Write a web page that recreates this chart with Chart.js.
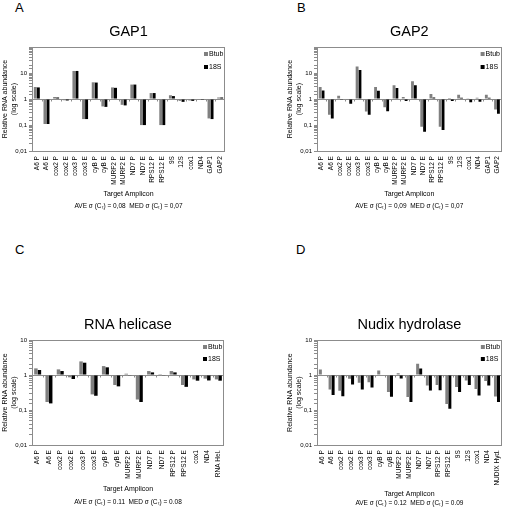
<!DOCTYPE html>
<html>
<head>
<meta charset="utf-8">
<script src="https://cdn.jsdelivr.net/npm/chart.js@4.4.0/dist/chart.umd.min.js"></script>
<style>
  html, body { margin: 0; padding: 0; background: #fff; }
  body { width: 510px; height: 508px; position: relative; overflow: hidden;
         font-family: "Liberation Sans", Arial, sans-serif; }
  canvas { position: absolute; }
  .tag { position: absolute; font-size: 13px; line-height: 1; color: #000; }
</style>
</head>
<body>
<div class="tag" style="left:15px;top:1px">A</div>
<div class="tag" style="left:297px;top:1px">B</div>
<div class="tag" style="left:15px;top:243px">C</div>
<div class="tag" style="left:296px;top:243px">D</div>

<canvas id="chartA" width="255" height="254" style="left:0;top:0"></canvas>
<canvas id="chartB" width="225" height="254" style="left:285px;top:0"></canvas>
<canvas id="chartC" width="255" height="254" style="left:0;top:254px"></canvas>
<canvas id="chartD" width="225" height="254" style="left:285px;top:254px"></canvas>

<script>
'use strict';

// Target amplicons
var baseCats = ['A6 P', 'A6 E', 'cox2 P', 'cox2 E', 'cox3 P', 'cox3 E', 'cyB P', 'cyB E',
                'MURF2 P', 'MURF2 E', 'ND7 P', 'ND7 E', 'RPS12 P', 'RPS12 E'];
var catsGap = baseCats.concat(['9S', '12S', 'cox1', 'ND4', 'GAP1', 'GAP2']);
var catsHel = baseCats.concat(['cox1', 'ND4', 'RNA Hel.']);
var catsNud = baseCats.concat(['9S', '12S', 'cox1', 'ND4', 'NUDIX Hyd.']);

// Relative abundance, normalised to Btub and to 18S
var btubGap1 = [2.9, 0.11, 1.2, 0.9, 12, 0.17, 4.4, 0.52, 2.8, 0.6, 3.6, 0.1, 1.7, 0.1, 1.4, 0.85, 0.88, 0.95, 0.18, 1.15];
var s18Gap1  = [2.8, 0.11, 1.15, 0.88, 12, 0.17, 4.3, 0.5, 2.7, 0.57, 3.6, 0.1, 1.7, 0.1, 1.3, 0.78, 0.85, 0.93, 0.17, 1.15];

var btubGap2 = [2.9, 0.25, 1.35, 0.99, 18, 0.33, 2.9, 0.48, 3.4, 1.2, 4.8, 0.087, 1.55, 0.087, 1.1, 1.45, 1.02, 1.12, 1.45, 0.4];
var s18Gap2  = [2.15, 0.18, 0.95, 0.66, 13, 0.25, 2.1, 0.34, 2.65, 0.85, 3.4, 0.056, 1.15, 0.064, 0.84, 1.12, 0.76, 0.78, 1.12, 0.27];

var btubHel = [1.55, 0.17, 1.45, 0.86, 2.45, 0.28, 1.8, 0.52, 1.09, 0.2, 1.3, 1.06, 1.3, 0.52, 0.75, 0.79, 0.75];
var s18Hel  = [1.39, 0.155, 1.3, 0.77, 2.25, 0.256, 1.66, 0.475, 0.96, 0.17, 1.19, 0.96, 1.19, 0.46, 0.69, 0.7, 0.69];

var btubNud = [1.45, 0.39, 0.36, 0.79, 0.6, 0.62, 1.35, 0.33, 1.12, 0.235, 2.1, 0.5, 0.52, 0.15, 0.46, 0.7, 0.4, 0.68, 0.245];
var s18Nud  = [1.03, 0.27, 0.25, 0.54, 0.39, 0.44, 0.97, 0.24, 0.8, 0.17, 1.55, 0.365, 0.37, 0.11, 0.33, 0.52, 0.26, 0.5, 0.17];

// Y axis labels (only the decades are labelled)
var yTickValues = [0.01, 0.1, 1, 10];
var yTickLabels = ['0,01', '0,1', '1', '10'];

var seriesNames = ['Btub', '18S'];
var seriesColors = ['#808080', '#000000'];

Chart.defaults.font.family = '"Liberation Sans", Arial, sans-serif';
Chart.defaults.color = '#000';

// Box round the plot, baseline at 1 and the small legend in the corner
var framePlugin = {
  id: 'frame',
  beforeDatasetsDraw: function(chart) {
    var ctx = chart.ctx, area = chart.chartArea, xs = chart.scales.x, ys = chart.scales.y;
    var y1 = Math.round(ys.getPixelForValue(1)) + 0.5;
    ctx.save();
    ctx.strokeStyle = '#8c8c8c';
    ctx.lineWidth = 1;
    ctx.beginPath();
    ctx.moveTo(area.left, y1);
    ctx.lineTo(area.right, y1);
    for (var i = 1; i < chart.data.labels.length; i++) {
      var xb = Math.round((xs.getPixelForValue(i - 1) + xs.getPixelForValue(i)) / 2) + 0.5;
      ctx.moveTo(xb, y1);
      ctx.lineTo(xb, y1 + 2);
    }
    ctx.stroke();
    ctx.restore();
  },
  afterDraw: function(chart, args, opts) {
    var ctx = chart.ctx, area = chart.chartArea;
    ctx.save();
    ctx.strokeStyle = '#8c8c8c';
    ctx.lineWidth = 1;
    ctx.strokeRect(Math.round(area.left) + 0.5, Math.round(area.top) + 0.5,
                   Math.round(area.right - area.left) - 1, Math.round(area.bottom - area.top));
    ctx.font = '7px "Liberation Sans", Arial, sans-serif';
    ctx.textBaseline = 'middle';
    chart.data.datasets.forEach(function(ds, i) {
      var ly = area.top + 7 + i * opts.step;
      ctx.fillStyle = ds.backgroundColor;
      ctx.fillRect(area.right - 21, ly - 2, 4, 4);
      ctx.fillStyle = '#000';
      ctx.fillText(ds.label, area.right - 16, ly);
    });
    ctx.restore();
  }
};

function yLabel(v) {
  for (var i = 0; i < yTickValues.length; i++) {
    if (Math.abs(v - yTickValues[i]) < yTickValues[i] * 1e-6) return yTickLabels[i];
  }
  return '';
}

function buildChart(id, title, cats, btub, s18, yMax, stats, lay) {
  return new Chart(document.getElementById(id), {
    type: 'bar',
    data: {
      labels: cats,
      datasets: [
        { label: seriesNames[0], data: btub, backgroundColor: seriesColors[0] },
        { label: seriesNames[1], data: s18, backgroundColor: seriesColors[1] }
      ]
    },
    options: {
      responsive: false,
      animation: false,
      base: 1,
      borderWidth: 0,
      categoryPercentage: 0.62,
      barPercentage: 1,
      layout: { padding: { left: 0, right: lay.right, top: 0, bottom: 0 } },
      plugins: {
        legend: { display: false },
        tooltip: { enabled: false },
        frame: { step: lay.step },
        title: {
          display: true, text: title, fullSize: false, color: '#000',
          font: { size: 14.5, weight: 'normal' },
          padding: { top: lay.titleTop, bottom: lay.titleBottom }
        },
        subtitle: {
          display: true, text: stats, position: 'bottom', fullSize: false, color: '#000',
          font: { size: 6.5 },
          padding: { top: lay.subTop, bottom: lay.subBottom }
        }
      },
      scales: {
        x: {
          type: 'category',
          grid: { display: false, drawTicks: false },
          border: { display: false },
          ticks: { autoSkip: false, minRotation: 90, maxRotation: 90, padding: 5, font: { size: 6.5 } },
          title: { display: true, text: 'Target Amplicon', font: { size: 7 }, padding: { top: 0, bottom: lay.xTitleBottom } },
          afterFit: function(scale) { scale.height = lay.xHeight; }
        },
        y: {
          type: 'logarithmic',
          min: 0.01,
          max: yMax,
          border: { display: false },
          grid: { drawOnChartArea: false, tickLength: 3, color: '#8c8c8c' },
          ticks: { autoSkip: false, padding: 2, font: { size: 6 }, callback: yLabel },
          title: {
            display: true, text: ['Relative RNA abundance', '(log scale)'],
            font: { size: 7 }, padding: { top: 1, bottom: 0 }
          },
          afterFit: function(scale) { scale.width = 32; }
        }
      }
    },
    plugins: [framePlugin]
  });
}

var layTop = { right: 30, step: 13, titleTop: 23.3, titleBottom: 6.3, xHeight: 49, xTitleBottom: 1.8, subTop: 2.1, subBottom: 44 };
var layTopB = Object.assign({}, layTop, { right: 1 });
var layBot = { right: 31, step: 12, titleTop: 62.3, titleBottom: 6.3, xHeight: 49, xTitleBottom: 0.8, subTop: 4.1, subBottom: 2 };
var layBotD = Object.assign({}, layBot, { right: 1, xHeight: 54, subTop: 0, subBottom: 1 });

buildChart('chartA', 'GAP1', catsGap, btubGap1, s18Gap1, 100, 'AVE σ (Cₜ) = 0,08  MED σ (Cₜ) = 0,07', layTop);
buildChart('chartB', 'GAP2', catsGap, btubGap2, s18Gap2, 100, 'AVE σ (Cₜ) = 0,09  MED σ (Cₜ) = 0,07', layTopB);
buildChart('chartC', 'RNA helicase', catsHel, btubHel, s18Hel, 10, 'AVE σ (Cₜ) = 0.11  MED σ (Cₜ) = 0.08', layBot);
buildChart('chartD', 'Nudix hydrolase', catsNud, btubNud, s18Nud, 10, 'AVE σ (Cₜ) = 0.12  MED σ (Cₜ) = 0.09', layBotD);
</script>
</body>
</html>
